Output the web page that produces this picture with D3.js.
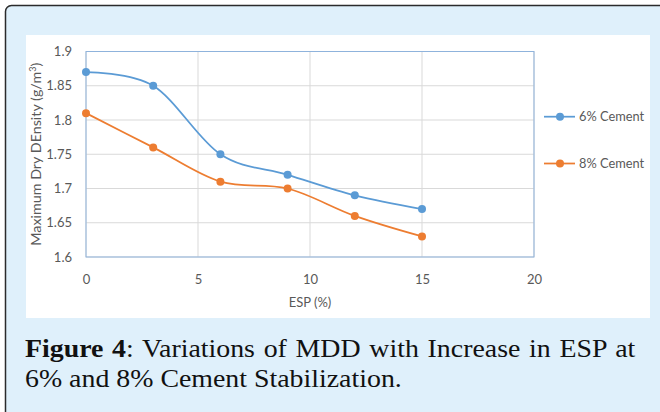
<!DOCTYPE html>
<html><head><meta charset="utf-8">
<script src="https://cdn.jsdelivr.net/npm/d3@7"></script>
<style>body{margin:0;background:#fff;}svg{display:block;}</style>
</head><body>
<svg id="c" width="660" height="412"></svg>
<script>
const esp = [0, 3, 6, 9, 12, 15];
const cement6 = [1.87, 1.85, 1.75, 1.72, 1.69, 1.67];
const cement8 = [1.81, 1.76, 1.71, 1.70, 1.66, 1.63];
const seriesNames = ["6% Cement", "8% Cement"];
const xTicks = [0, 5, 10, 15, 20];
const yTicks = [1.6, 1.65, 1.7, 1.75, 1.8, 1.85, 1.9];
const colors = ["#5b9bd5", "#ed7d31"];

const svg = d3.select("#c");
svg.append("rect").attr("x",5.5).attr("y",5.5).attr("width",720).attr("height",460)
  .attr("rx",6).attr("fill","#dff0fb").attr("stroke","#2b2b2b").attr("stroke-width",1.5);
svg.append("rect").attr("x",26).attr("y",35).attr("width",624).attr("height",283).attr("fill","#fff");

const x = d3.scaleLinear().domain([0,20]).range([86,534]);
const y = d3.scaleLinear().domain([1.6,1.9]).range([257,51.5]);
const font = "Lato, 'Open Sans', sans-serif";

// gridlines
svg.append("g").selectAll("line").data(yTicks).join("line")
  .attr("x1",x(0)).attr("x2",x(20)).attr("y1",d=>y(d)).attr("y2",d=>y(d))
  .attr("stroke","#d9d9d9").attr("stroke-width",1);
svg.append("g").selectAll("line").data(xTicks).join("line")
  .attr("x1",d=>x(d)).attr("x2",d=>x(d)).attr("y1",y(1.6)).attr("y2",y(1.9))
  .attr("stroke","#d9d9d9").attr("stroke-width",1);
svg.append("rect").attr("x",x(0)).attr("y",y(1.9)).attr("width",x(20)-x(0)).attr("height",y(1.6)-y(1.9))
  .attr("fill","none").attr("stroke","#8fb3dc").attr("stroke-width",1);

const yAxis = svg.append("g").attr("transform",`translate(${x(0)},0)`)
  .call(d3.axisLeft(y).tickValues(yTicks).tickSize(0).tickPadding(14).tickFormat(d3.format("")));
const xAxis = svg.append("g").attr("transform",`translate(0,${y(1.6)})`)
  .call(d3.axisBottom(x).tickValues(xTicks).tickSize(0).tickPadding(18).tickFormat(d3.format("d")));
[yAxis,xAxis].forEach(a=>{
  a.select(".domain").remove();
  a.selectAll("text").attr("fill","#595959").style("font-family",font).style("font-size","13px");
});

svg.append("text").attr("x",x(10)).attr("y",307).attr("text-anchor","middle")
  .attr("fill","#595959").style("font-family",font).style("font-size","13px").text("ESP (%)");
const yl = svg.append("text").attr("transform",`translate(41,${(y(1.6)+y(1.9))/2}) rotate(-90)`)
  .attr("text-anchor","middle").attr("fill","#595959").style("font-family",font).style("font-size","14.3px");
yl.append("tspan").text("Maximum Dry DEnsity (g/m");
yl.append("tspan").attr("baseline-shift","super").style("font-size","9px").text("3");
yl.append("tspan").text(")");

const line = d3.line().x(d=>x(d[0])).y(d=>y(d[1])).curve(d3.curveCardinal.tension(0));
[cement6, cement8].forEach((vals,i)=>{
  const pts = esp.map((e,j)=>[e,vals[j]]);
  svg.append("path").attr("d",line(pts)).attr("fill","none").attr("stroke",colors[i]).attr("stroke-width",1.75);
  svg.append("g").selectAll("circle").data(pts).join("circle")
    .attr("cx",d=>x(d[0])).attr("cy",d=>y(d[1])).attr("r",4).attr("fill",colors[i]);
});

const legY = [116.7, 163.5];
seriesNames.forEach((n,i)=>{
  svg.append("line").attr("x1",544).attr("x2",575).attr("y1",legY[i]).attr("y2",legY[i])
    .attr("stroke",colors[i]).attr("stroke-width",1.75);
  svg.append("circle").attr("cx",560).attr("cy",legY[i]).attr("r",4).attr("fill",colors[i]);
  svg.append("text").attr("x",579).attr("y",legY[i]+4.5).attr("fill","#595959")
    .style("font-family",font).style("font-size","12.8px").text(n);
});

// caption: glyphs stretched horizontally to match, first line justified
const cf = "'Liberation Serif', 'DejaVu Serif', serif";
const cap = svg.append("g");
const c2 = cap.append("text").attr("x",0).attr("y",387).style("font-family",cf).style("font-size","26px")
  .attr("fill","#111").text("6% and 8% Cement Stabilization.");
const c1 = cap.append("text").attr("x",0).attr("y",357).style("font-family",cf).style("font-size","26px")
  .attr("fill","#111");
c1.append("tspan").style("font-weight","bold").text("Figure 4");
c1.append("tspan").text(": Variations of MDD with Increase in ESP at");
const s = 377 / c2.node().getComputedTextLength();
cap.attr("transform",`translate(25,0) scale(${s},1)`);
const w1 = c1.node().getComputedTextLength();
const gaps = 10;
const extra = (612 / s - w1) / gaps;
c1.style("word-spacing", extra + "px");
</script>
</body></html>
